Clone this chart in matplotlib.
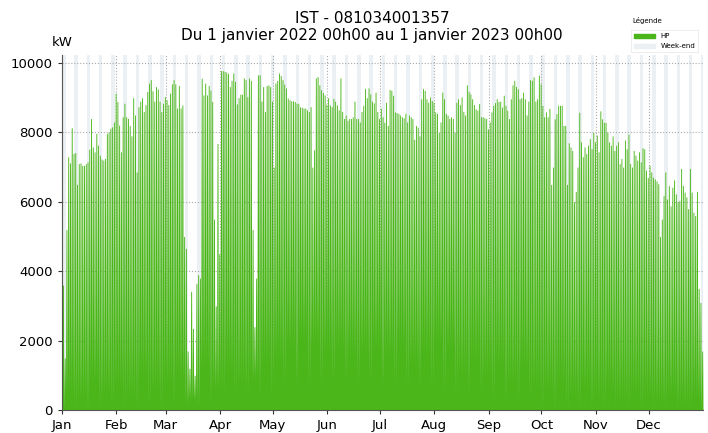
import numpy as np
import pandas as pd
import matplotlib
matplotlib.use("Agg")
import matplotlib.pyplot as plt
import matplotlib.dates as mdates
from matplotlib.patches import Patch

# daily peak load (kW), one value per day of 2022, grouped by month
peak_kw = [
    # Jan
    3600, 1500, 5200, 7300, 7120, 8135, 7390, 7420, 6500, 7100, 7120, 7050, 7050, 7100, 7150, 7520,
    8400, 7580, 7440, 7970, 7630, 7340, 7230, 7200, 7250, 7970, 8020, 8120, 8160, 8300, 9130,
    # Feb
    8890, 8210, 7440, 8450, 8840, 8450, 8400, 8200, 7900, 9000, 8500, 6860, 8740, 8900, 9000, 8600,
    8800, 9180, 9420, 9520, 9200, 8900, 9320, 9250, 8900, 8600, 8840, 9030,
    # Mar
    8940, 8800, 9130, 9400, 9520, 9400, 8700, 9350, 8700, 8790, 5000, 4660, 1700, 1200, 3420, 2350,
    1000, 3650, 3900, 3800, 9560, 9080, 9420, 9080, 9350, 9220, 8890, 5500, 3000, 7680, 4500,
    # Apr
    9780, 9780, 9760, 9740, 9700, 9320, 9500, 9710, 9470, 8820, 9000, 9100, 9100, 9570, 9520, 9030,
    9570, 9500, 5200, 2400, 3800, 9660, 9660, 8900, 9320, 8600, 9350, 9370, 9320, 8900,
    # May
    7000, 9420, 9500, 9710, 9640, 9520, 9390, 9280, 8990, 8940, 8910, 8910, 8890, 8840, 8840, 8740,
    8720, 8700, 8700, 8650, 8600, 8740, 7000, 7500, 9570, 9610, 9370, 9230, 9150, 9080, 8810,
    # Jun
    9000, 8790, 8740, 8980, 8900, 8790, 8650, 9570, 8600, 8400, 8500, 8350, 8400, 8400, 8450, 8900,
    8400, 8400, 8300, 8600, 8780, 9270, 9000, 9280, 9110, 8900, 8850, 9160, 8600, 8400,
    # Jul
    8700, 8450, 8290, 8870, 8200, 9240, 9210, 9070, 8590, 8570, 8550, 8500, 8450, 8420, 8550, 8300,
    8500, 8450, 8400, 7800, 8200, 8150, 7900, 8970, 9260, 9210, 8970, 8870, 9020, 8920, 8870,
    # Aug
    8590, 8550, 8000, 8300, 9160, 8970, 8550, 8500, 8400, 8450, 8400, 8000, 8870, 8970, 8800, 9020,
    8600, 8500, 9370, 9180, 9110, 8970, 8800, 8680, 8640, 8830, 8450, 8450, 8420, 8400, 8100,
    # Sep
    8300, 8590, 8780, 8860, 8970, 8890, 8900, 8730, 9070, 8780, 8640, 8400, 8970, 9370, 9500, 9330,
    9260, 8970, 9000, 9160, 8970, 8500, 8900, 9520, 9500, 9600, 8900, 8970, 9650, 9400,
    # Oct
    8780, 8450, 8590, 8450, 8690, 6500, 7000, 8390, 8540, 8780, 8780, 8780, 8200, 8200, 6500, 7700,
    7580, 7480, 6000, 6300, 7000, 8580, 7730, 7300, 7580, 7390, 7630, 7820, 7530, 8000, 7730,
    # Nov
    7920, 7440, 8620, 8390, 8290, 8290, 8000, 7730, 7630, 7900, 7480, 7630, 7730, 7100, 7250, 7000,
    7780, 7530, 7950, 7100, 7000, 7480, 7340, 7200, 7440, 7150, 7560, 7530, 6910, 6700,
    # Dec
    7050, 6860, 6710, 6660, 6600, 6520, 5000, 5500, 6180, 6860, 6080, 6470, 5880, 6420, 6630, 6230,
    6000, 6040, 6960, 6470, 6280, 6140, 5800, 6960, 6280, 5700, 5600, 6300, 3500, 3100, 1700,
]

# night load on working days, one value per week (weeks start on Monday, week 0 = 1-2 Jan)
night_kw = [
    0, 500, 300, 800, 400,
    600, 300, 900, 500,
    700, 800, 300, 1200, 600,
    1000, 700, 900, 1300,
    1400, 1700, 2000, 1800, 1600,
    1700, 1500, 1600, 1700,
    1500, 1800, 1300, 1600,
    1900, 1700, 1000, 1400, 900,
    1200, 700, 1100, 600,
    500, 700, 400, 600,
    300, 500, 200, 400, 300,
    200, 400, 100, 300,
]
# night load on week-ends, per month
weekend_night_kw = [0, 0, 100, 300, 600, 700, 600, 400, 200, 0, 0, 0]

months = ["Jan", "Feb", "Mar", "Apr", "May", "Jun", "Jul", "Aug", "Sep", "Oct", "Nov", "Dec"]

green = "#4ab619"
weekend_color = "#eaf0f3"

days = pd.date_range("2022-01-01", "2022-12-31", freq="D")

# load curve: ramps up from the night level at midnight to the peak at 07h,
# stays there until 19h, then falls back to the night level at midnight
times = []
values = []
for i, (day, peak) in enumerate(zip(days, peak_kw)):
    if day.dayofweek >= 5:
        low = weekend_night_kw[day.month - 1]
    else:
        low = night_kw[(i + 5) // 7]
    times += [day, day + pd.Timedelta(hours=7), day + pd.Timedelta(hours=19)]
    values += [low, peak, peak]
times.append(pd.Timestamp("2023-01-01"))
values.append(0)
times = mdates.date2num(pd.DatetimeIndex(times).to_pydatetime())

fig = plt.figure(figsize=(7.08, 4.33), dpi=100)
ax = fig.add_axes([62 / 708, 23 / 433, 641 / 708, 355 / 433])

# week-end bands
for day in days:
    if day.dayofweek == 5:
        ax.axvspan(day, day + pd.Timedelta(days=2), color=weekend_color, lw=0, zorder=0)

curve = ax.fill_between(times, 0, values, color=green, linewidth=0, zorder=2)
curve.set_antialiased(False)

ax.set_xlim(pd.Timestamp("2022-01-01"), pd.Timestamp("2023-01-01"))
ax.set_ylim(0, 10230)
ax.set_yticks([0, 2000, 4000, 6000, 8000, 10000])
ax.set_xticks(mdates.date2num(pd.date_range("2022-01-01", periods=12, freq="MS").to_pydatetime()))
ax.set_xticklabels(months)

ax.grid(True, linestyle=":", color="#aaaaaa", linewidth=0.8, zorder=1)
ax.set_axisbelow(True)
for side in ["top", "right"]:
    ax.spines[side].set_visible(False)
ax.spines["left"].set_color("#555555")
ax.spines["bottom"].set_color("#555555")
ax.tick_params(labelsize=9.5, colors="#333333", length=3)
for lbl in ax.get_xticklabels() + ax.get_yticklabels():
    lbl.set_color("black")

fig.text(62 / 708, 1 - 42 / 433, "kW", ha="center", va="center", fontsize=9.5)
fig.text(372 / 708, 1 - 27 / 433, "IST - 081034001357\nDu 1 janvier 2022 00h00 au 1 janvier 2023 00h00",
         ha="center", va="center", fontsize=11, linespacing=1.1)

fig.text(632 / 708, 1 - 20 / 433, "Légende", ha="left", va="center", fontsize=5)
handles = [Patch(color=green), Patch(color=weekend_color)]
leg = fig.legend(handles, ["HP", "Week-end"], loc="upper left",
                 bbox_to_anchor=(628 / 708, 1 - 27 / 433), fontsize=5,
                 frameon=True, handlelength=3, handleheight=0.6, borderpad=0.4,
                 labelspacing=0.6, fancybox=False)
leg.get_frame().set_edgecolor("#e5e5e5")
leg.get_frame().set_linewidth(0.6)

fig.savefig("out.png", dpi=100)
